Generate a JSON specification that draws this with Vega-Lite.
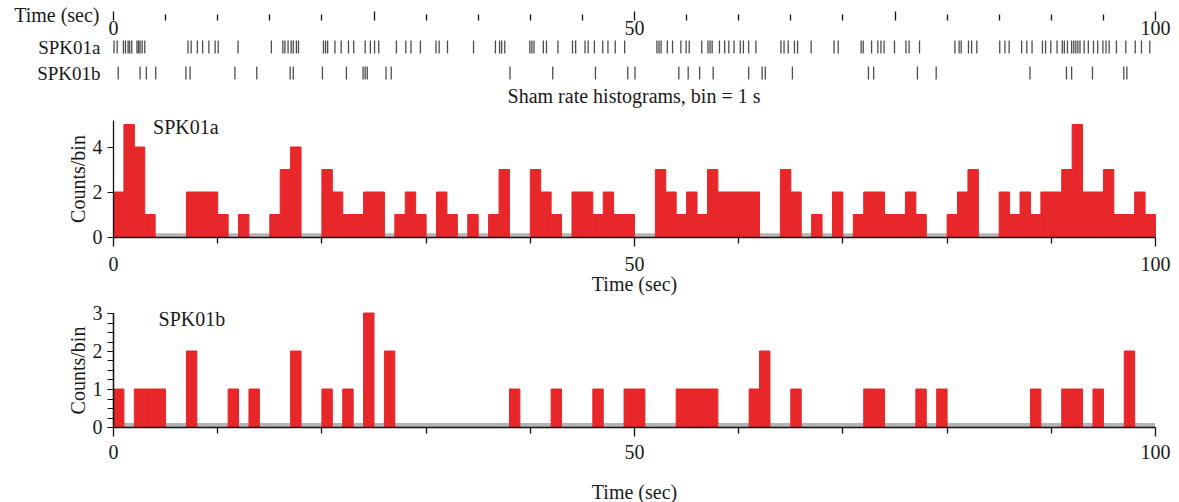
{
  "$schema": "https://vega.github.io/schema/vega-lite/v6.json",
  "autosize": {"type": "none"},
  "padding": {"left": 113, "top": 34, "right": 1066, "bottom": 468},
  "config": {
    "font": "Liberation Serif",
    "view": {"stroke": null},
    "axis": {"labelFont": "Liberation Serif", "titleFont": "Liberation Serif", "labelFontSize": 20, "titleFontSize": 20, "titleFontWeight": "normal", "labelColor": "#1a1a1a", "titleColor": "#1a1a1a", "domainColor": "#111111", "tickColor": "#111111", "grid": false}
  },
  "datasets": {
    "spikes": [
      {"n":"SPK01a","t":0.1},{"n":"SPK01a","t":0.4},
      {"n":"SPK01a","t":1.0},{"n":"SPK01a","t":1.2},{"n":"SPK01a","t":1.45},{"n":"SPK01a","t":1.6},{"n":"SPK01a","t":1.8},
      {"n":"SPK01a","t":2.3},{"n":"SPK01a","t":2.45},{"n":"SPK01a","t":2.6},{"n":"SPK01a","t":2.8},
      {"n":"SPK01a","t":3.05},
      {"n":"SPK01a","t":7.2},{"n":"SPK01a","t":7.5},{"n":"SPK01a","t":8.1},{"n":"SPK01a","t":8.6},{"n":"SPK01a","t":9.2},{"n":"SPK01a","t":9.8},
      {"n":"SPK01a","t":10.1},{"n":"SPK01a","t":12.0},{"n":"SPK01a","t":15.2},
      {"n":"SPK01a","t":16.3},{"n":"SPK01a","t":16.5},{"n":"SPK01a","t":16.8},
      {"n":"SPK01a","t":17.1},{"n":"SPK01a","t":17.3},{"n":"SPK01a","t":17.6},{"n":"SPK01a","t":17.8},
      {"n":"SPK01a","t":20.2},{"n":"SPK01a","t":20.4},{"n":"SPK01a","t":20.6},
      {"n":"SPK01a","t":21.3},{"n":"SPK01a","t":21.9},{"n":"SPK01a","t":22.6},{"n":"SPK01a","t":23.1},
      {"n":"SPK01a","t":24.2},{"n":"SPK01a","t":24.7},{"n":"SPK01a","t":25.1},{"n":"SPK01a","t":25.5},
      {"n":"SPK01a","t":27.2},{"n":"SPK01a","t":28.1},{"n":"SPK01a","t":28.6},{"n":"SPK01a","t":29.5},
      {"n":"SPK01a","t":31.0},{"n":"SPK01a","t":31.3},{"n":"SPK01a","t":32.1},{"n":"SPK01a","t":34.6},
      {"n":"SPK01a","t":36.7},{"n":"SPK01a","t":37.1},{"n":"SPK01a","t":37.3},{"n":"SPK01a","t":37.6},
      {"n":"SPK01a","t":40.0},{"n":"SPK01a","t":40.2},{"n":"SPK01a","t":40.4},
      {"n":"SPK01a","t":41.3},{"n":"SPK01a","t":41.6},{"n":"SPK01a","t":42.7},
      {"n":"SPK01a","t":44.1},{"n":"SPK01a","t":44.4},{"n":"SPK01a","t":45.3},{"n":"SPK01a","t":45.6},
      {"n":"SPK01a","t":46.2},{"n":"SPK01a","t":47.0},{"n":"SPK01a","t":47.5},{"n":"SPK01a","t":48.2},{"n":"SPK01a","t":49.1},
      {"n":"SPK01a","t":52.2},{"n":"SPK01a","t":52.4},{"n":"SPK01a","t":52.6},
      {"n":"SPK01a","t":53.2},{"n":"SPK01a","t":53.7},{"n":"SPK01a","t":54.5},{"n":"SPK01a","t":55.0},{"n":"SPK01a","t":55.3},
      {"n":"SPK01a","t":56.5},{"n":"SPK01a","t":57.1},{"n":"SPK01a","t":57.3},{"n":"SPK01a","t":57.5},
      {"n":"SPK01a","t":58.2},{"n":"SPK01a","t":58.7},{"n":"SPK01a","t":59.1},{"n":"SPK01a","t":59.6},
      {"n":"SPK01a","t":60.2},{"n":"SPK01a","t":60.5},{"n":"SPK01a","t":61.0},{"n":"SPK01a","t":61.7},
      {"n":"SPK01a","t":64.1},{"n":"SPK01a","t":64.4},{"n":"SPK01a","t":64.8},{"n":"SPK01a","t":65.4},{"n":"SPK01a","t":65.7},
      {"n":"SPK01a","t":67.0},{"n":"SPK01a","t":69.2},{"n":"SPK01a","t":69.6},{"n":"SPK01a","t":71.8},
      {"n":"SPK01a","t":72.0},{"n":"SPK01a","t":72.8},{"n":"SPK01a","t":73.4},{"n":"SPK01a","t":73.7},
      {"n":"SPK01a","t":74.0},{"n":"SPK01a","t":75.0},{"n":"SPK01a","t":76.1},{"n":"SPK01a","t":76.4},{"n":"SPK01a","t":77.4},
      {"n":"SPK01a","t":80.8},{"n":"SPK01a","t":81.2},{"n":"SPK01a","t":81.4},
      {"n":"SPK01a","t":82.1},{"n":"SPK01a","t":82.4},{"n":"SPK01a","t":82.9},
      {"n":"SPK01a","t":85.1},{"n":"SPK01a","t":85.6},{"n":"SPK01a","t":86.0},{"n":"SPK01a","t":87.2},{"n":"SPK01a","t":87.7},
      {"n":"SPK01a","t":88.2},{"n":"SPK01a","t":89.2},{"n":"SPK01a","t":89.5},{"n":"SPK01a","t":90.0},{"n":"SPK01a","t":90.6},
      {"n":"SPK01a","t":91.1},{"n":"SPK01a","t":91.3},{"n":"SPK01a","t":91.6},
      {"n":"SPK01a","t":92.0},{"n":"SPK01a","t":92.2},{"n":"SPK01a","t":92.4},{"n":"SPK01a","t":92.6},{"n":"SPK01a","t":92.8},
      {"n":"SPK01a","t":93.2},{"n":"SPK01a","t":93.6},{"n":"SPK01a","t":94.1},{"n":"SPK01a","t":94.5},
      {"n":"SPK01a","t":95.0},{"n":"SPK01a","t":95.3},{"n":"SPK01a","t":95.6},
      {"n":"SPK01a","t":96.3},{"n":"SPK01a","t":97.2},{"n":"SPK01a","t":98.1},{"n":"SPK01a","t":98.7},{"n":"SPK01a","t":99.5},
      {"n":"SPK01b","t":0.5},{"n":"SPK01b","t":2.6},{"n":"SPK01b","t":3.2},{"n":"SPK01b","t":4.1},
      {"n":"SPK01b","t":7.0},{"n":"SPK01b","t":7.4},{"n":"SPK01b","t":11.7},{"n":"SPK01b","t":13.8},
      {"n":"SPK01b","t":17.0},{"n":"SPK01b","t":17.3},{"n":"SPK01b","t":20.1},{"n":"SPK01b","t":22.4},
      {"n":"SPK01b","t":24.0},{"n":"SPK01b","t":24.2},{"n":"SPK01b","t":24.4},
      {"n":"SPK01b","t":26.2},{"n":"SPK01b","t":26.7},{"n":"SPK01b","t":38.1},{"n":"SPK01b","t":42.2},
      {"n":"SPK01b","t":46.3},{"n":"SPK01b","t":49.4},{"n":"SPK01b","t":50.1},
      {"n":"SPK01b","t":54.3},{"n":"SPK01b","t":55.2},{"n":"SPK01b","t":56.3},{"n":"SPK01b","t":57.6},
      {"n":"SPK01b","t":61.0},{"n":"SPK01b","t":62.3},{"n":"SPK01b","t":62.6},{"n":"SPK01b","t":65.2},
      {"n":"SPK01b","t":72.5},{"n":"SPK01b","t":73.0},{"n":"SPK01b","t":77.2},{"n":"SPK01b","t":79.0},
      {"n":"SPK01b","t":88.0},{"n":"SPK01b","t":91.5},{"n":"SPK01b","t":92.0},{"n":"SPK01b","t":94.0},
      {"n":"SPK01b","t":97.0},{"n":"SPK01b","t":97.3}
    ]
  },
  "data": {"name": "spikes"},
  "bounds": "flush",
  "spacing": 34,
  "vconcat": [
    {
      "width": 1042,
      "height": 52,
      "mark": {"type": "tick", "color": "#000000", "thickness": 1.3, "size": 13},
      "encoding": {
        "x": {
          "field": "t", "type": "quantitative",
          "scale": {"domain": [0, 100], "nice": false, "zero": false},
          "axis": {
            "orient": "top", "offset": 14, "domain": false,
            "values": [0,5,10,15,20,25,30,35,40,45,50,55,60,65,70,75,80,85,90,95,100],
            "tickSize": {"condition": {"test": "datum.value % 25 === 0", "value": 9}, "value": 6},
            "tickWidth": 1.3,
            "labelExpr": "datum.value % 50 === 0 ? datum.label : ''",
            "labelPadding": -27, "labelFlush": false, "labelOverlap": false,
            "title": "Time (sec)", "titleAlign": "right", "titleBaseline": "middle",
            "titleX": -14, "titleY": -5, "titleAngle": 0
          }
        },
        "y": {
          "field": "n", "type": "nominal",
          "scale": {"type": "point", "domain": ["SPK01a", "SPK01b"], "padding": 0.5},
          "axis": {"title": null, "domain": false, "ticks": false, "labelPadding": 13, "labelFontSize": 19}
        }
      }
    },
    {
      "bounds": "flush",
      "spacing": 76,
      "vconcat": [
        {
          "width": 1042,
          "height": 117,
          "title": {"text": "Sham rate histograms, bin = 1 s", "fontSize": 20, "fontWeight": "normal", "font": "Liberation Serif", "offset": 11, "anchor": "middle", "color": "#1a1a1a"},
          "layer": [
            {
              "data": {"values": [{}]},
              "mark": {"type": "rule", "color": "#b4b4b4", "strokeWidth": 4},
              "encoding": {"y": {"datum": 0.08, "type": "quantitative"}}
            },
            {
              "transform": [
                {"filter": {"field": "n", "equal": "SPK01a"}},
                {"bin": {"step": 1, "extent": [0, 100]}, "field": "t", "as": ["b0", "b1"]},
                {"aggregate": [{"op": "count", "as": "c"}], "groupby": ["b0", "b1"]}
              ],
              "mark": {"type": "bar", "color": "#e8272b", "stroke": "#e8272b", "strokeWidth": 1, "binSpacing": 0},
              "encoding": {
                "x": {
                  "field": "b0", "type": "quantitative", "bin": {"binned": true},
                  "scale": {"domain": [0, 100], "nice": false},
                  "axis": {
                    "values": [0,10,20,30,40,50,60,70,80,90,100],
                    "labelExpr": "datum.value % 50 === 0 ? datum.label : ''",
                    "tickSize": {"condition": {"test": "datum.value % 50 === 0", "value": 9}, "value": 6},
                    "tickWidth": 1.3, "domainWidth": 1.6, "labelPadding": 8, "labelFlush": false, "labelOverlap": false,
                    "title": "Time (sec)", "titlePadding": 0, "zindex": 1
                  }
                },
                "x2": {"field": "b1"},
                "y": {
                  "field": "c", "type": "quantitative",
                  "scale": {"domain": [0, 5.2], "nice": false},
                  "axis": {
                    "values": [0,0.5,1,1.5,2,2.5,3,3.5,4,4.5,5],
                    "labelExpr": "datum.value % 2 === 0 ? datum.label : ''",
                    "tickSize": 6, "labelPadding": 5, "domainWidth": 1.3,
                    "title": "Counts/bin", "titlePadding": 4, "zindex": 1
                  }
                }
              }
            },
            {
              "data": {"values": [{"label": "SPK01a"}]},
              "mark": {"type": "text", "align": "left", "baseline": "middle", "fontSize": 20, "font": "Liberation Serif", "color": "#1a1a1a"},
              "encoding": {
                "text": {"field": "label"},
                "x": {"datum": 3.85, "type": "quantitative"},
                "y": {"datum": 4.84, "type": "quantitative"}
              }
            }
          ]
        },
        {
          "width": 1042,
          "height": 114,
          "resolve": {"axis": {"y": "independent"}},
          "layer": [
            {
              "data": {"values": [{}]},
              "mark": {"type": "rule", "color": "#b4b4b4", "strokeWidth": 4},
              "encoding": {
                "y": {
                  "datum": 0.05, "type": "quantitative",
                  "axis": {
                    "orient": "left",
                    "values": [0,0.25,0.5,0.75,1,1.25,1.5,1.75,2,2.25,2.5,2.75,3],
                    "labels": false, "tickSize": 6, "domainWidth": 1.3, "title": null, "zindex": 1
                  }
                }
              }
            },
            {
              "transform": [
                {"filter": {"field": "n", "equal": "SPK01b"}},
                {"bin": {"step": 1, "extent": [0, 100]}, "field": "t", "as": ["b0", "b1"]},
                {"aggregate": [{"op": "count", "as": "c"}], "groupby": ["b0", "b1"]}
              ],
              "mark": {"type": "bar", "color": "#e8272b", "stroke": "#e8272b", "strokeWidth": 1, "binSpacing": 0},
              "encoding": {
                "x": {
                  "field": "b0", "type": "quantitative", "bin": {"binned": true},
                  "scale": {"domain": [0, 100], "nice": false},
                  "axis": {
                    "values": [0,10,20,30,40,50,60,70,80,90,100],
                    "labelExpr": "datum.value % 50 === 0 ? datum.label : ''",
                    "tickSize": {"condition": {"test": "datum.value % 50 === 0", "value": 9}, "value": 6},
                    "tickWidth": 1.3, "domainWidth": 1.6, "labelPadding": 6, "labelFlush": false, "labelOverlap": false,
                    "title": "Time (sec)", "titlePadding": 20, "zindex": 1
                  }
                },
                "x2": {"field": "b1"},
                "y": {
                  "field": "c", "type": "quantitative",
                  "scale": {"domain": [0, 3], "nice": false},
                  "axis": {
                    "orient": "left",
                    "values": [0,1,2,3],
                    "tickSize": 6, "labelPadding": 5, "domainWidth": 1.3,
                    "labelFlush": false, "labelOverlap": false,
                    "title": "Counts/bin", "titlePadding": 4, "zindex": 1
                  }
                }
              }
            },
            {
              "data": {"values": [{"label": "SPK01b"}]},
              "mark": {"type": "text", "align": "left", "baseline": "middle", "fontSize": 20, "font": "Liberation Serif", "color": "#1a1a1a"},
              "encoding": {
                "text": {"field": "label"},
                "x": {"datum": 4.37, "type": "quantitative"},
                "y": {"datum": 2.82, "type": "quantitative", "axis": null}
              }
            }
          ]
        }
      ]
    }
  ]
}
